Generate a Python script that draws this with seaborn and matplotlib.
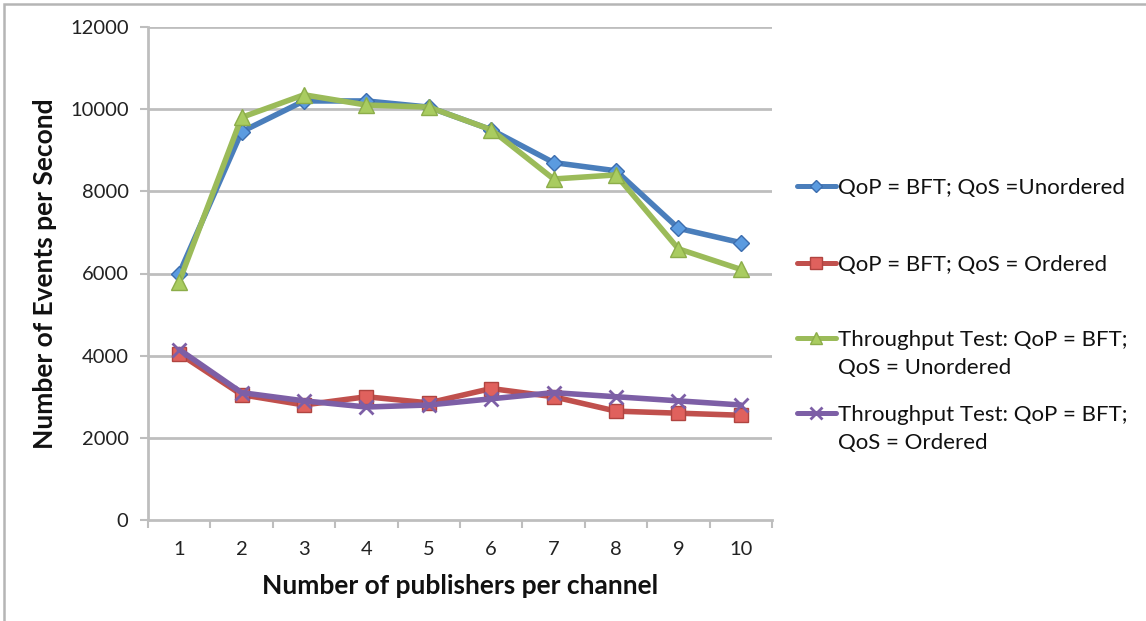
import matplotlib
matplotlib.use("Agg")
import matplotlib.pyplot as plt
from matplotlib.lines import Line2D
from matplotlib.patches import Rectangle
import seaborn as sns
import pandas as pd

# Publishers per channel
publishers = [1, 2, 3, 4, 5, 6, 7, 8, 9, 10]

# Events per second for each configuration
bft_unordered = [6000, 9450, 10200, 10200, 10050, 9500, 8700, 8500, 7100, 6750]
bft_ordered = [4050, 3050, 2800, 3000, 2850, 3200, 3000, 2650, 2600, 2550]
tput_unordered = [5800, 9800, 10350, 10100, 10050, 9500, 8300, 8400, 6600, 6100]
tput_ordered = [4150, 3100, 2900, 2750, 2800, 2950, 3100, 3000, 2900, 2800]

series_labels = [
    "QoP = BFT; QoS =Unordered",
    "QoP = BFT; QoS = Ordered",
    "Throughput Test: QoP = BFT;\nQoS = Unordered",
    "Throughput Test: QoP = BFT;\nQoS = Ordered",
]
y_ticks = [0, 2000, 4000, 6000, 8000, 10000, 12000]

sns.set_theme(style="white")
plt.rcParams["font.family"] = ["Lato", "DejaVu Sans"]

W, H = 1146, 621
fig = plt.figure(figsize=(W / 100, H / 100), dpi=100)
ax = fig.add_axes([148 / W, 1 - 520 / H, (772 - 148) / W, (520 - 27) / H])

styles = [
    dict(color="#4A7EBB", marker="D", ms=8, mfc="#5B9BE0", mec="#3C6DAE", mew=1.0),
    dict(color="#C0504D", marker="s", ms=10, mfc="#E0615D", mec="#B04440", mew=1.0),
    dict(color="#9BBB59", marker="^", ms=11, mfc="#A9CC60", mec="#8CAD4A", mew=1.0),
    dict(color="#7D5FA6", marker="x", ms=10, mfc="#7D5FA6", mec="#7D5FA6", mew=2.0),
]
all_series = [bft_unordered, bft_ordered, tput_unordered, tput_ordered]

for i, (vals, st) in enumerate(zip(all_series, styles)):
    df = pd.DataFrame({"x": publishers, "y": vals})
    sns.lineplot(data=df, x="x", y="y", ax=ax, color=st["color"], linewidth=4.0,
                 marker=st["marker"], markersize=st["ms"], markerfacecolor=st["mfc"],
                 markeredgecolor=st["mec"], markeredgewidth=st["mew"], zorder=3 + i)

ax.set_xlim(0.5, 10.5)
ax.set_ylim(0, 12000)
ax.set_yticks(y_ticks)
ax.set_yticklabels([str(v) for v in y_ticks])
ax.set_xticks(publishers)
ax.set_xticklabels([str(p) for p in publishers])
ax.set_xticks([p - 0.5 for p in publishers] + [10.5], minor=True)

grid_c = "#BEBEBE"
ax.grid(False)
for v in y_ticks[1:]:
    ax.axhline(v, color=grid_c, linewidth=2.0, zorder=1)

for side in ["top", "right"]:
    ax.spines[side].set_visible(False)
for side in ["left", "bottom"]:
    ax.spines[side].set_color(grid_c)
    ax.spines[side].set_linewidth(2.0)

ax.tick_params(axis="y", which="major", direction="out", length=6, width=1.5,
               color=grid_c, left=True, labelsize=14.5, labelcolor="#222222", pad=8)
ax.tick_params(axis="x", which="major", length=0, labelsize=14.5,
               labelcolor="#222222", pad=15)
ax.tick_params(axis="x", which="minor", direction="out", length=6, width=1.5,
               color=grid_c, bottom=True)

ax.set_xlabel("Number of publishers per channel", fontsize=19, fontweight="bold",
              color="#111111", labelpad=12)
ax.set_ylabel("Number of Events per Second", fontsize=19, fontweight="bold",
              color="#111111", labelpad=9)

# Legend entries, one per series, stacked on the right
fs = 16
entry_rows = [(188, None), (265, None), (340, 368), (415, 443)]
for (y0, y1), label, st in zip(entry_rows, series_labels, styles):
    first = label.split("\n")[0]
    h = Line2D([], [], color=st["color"], linewidth=3.6, marker=st["marker"],
               markersize=st["ms"] * 0.8, markerfacecolor=st["mfc"],
               markeredgecolor=st["mec"], markeredgewidth=st["mew"])
    leg = fig.legend([h], [first], loc="center left",
                     bbox_to_anchor=(797 / W, 1 - y0 / H), frameon=False,
                     fontsize=fs, handlelength=1.75, handletextpad=0.1,
                     borderpad=0, borderaxespad=0)
    for t in leg.get_texts():
        t.set_color("#111111")
    if y1 is not None:
        fig.text(838 / W, 1 - y1 / H, label.split("\n")[1], fontsize=fs,
                 color="#111111", va="center", ha="left")

# Chart frame
fig.patches.append(Rectangle((4 / W, -0.1), 1.2, 1.1 - 4 / H,
                             transform=fig.transFigure, fill=False,
                             edgecolor="#B5B5B5", linewidth=1.8))

fig.savefig("out.png", dpi=100)
